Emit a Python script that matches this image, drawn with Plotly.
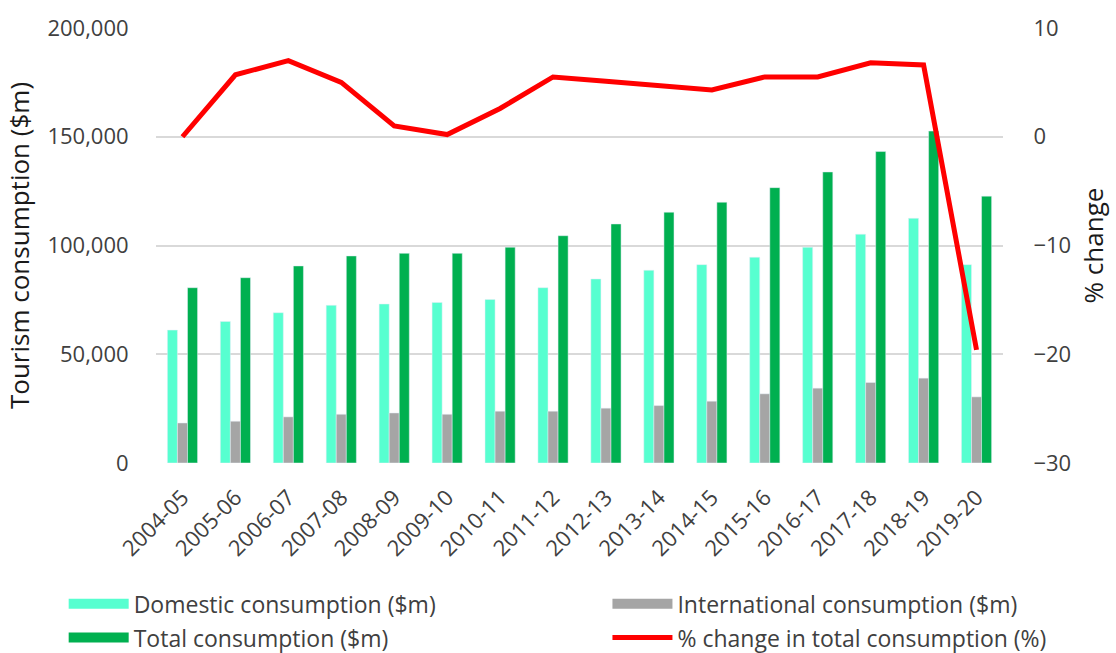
import plotly.graph_objs as go
from plotly.subplots import make_subplots

years = ['2004-05', '2005-06', '2006-07', '2007-08', '2008-09', '2009-10', '2010-11', '2011-12',
         '2012-13', '2013-14', '2014-15', '2015-16', '2016-17', '2017-18', '2018-19', '2019-20']
domestic = [61100, 65100, 69100, 72500, 73100, 73800, 75200, 80600,
            84600, 88600, 91200, 94600, 99200, 105200, 112500, 91200]
international = [18400, 19200, 21200, 22400, 23000, 22400, 23800, 23800,
                 25200, 26400, 28400, 31800, 34400, 37000, 39000, 30400]
total = [80600, 85200, 90600, 95200, 96400, 96400, 99200, 104500,
         109900, 115300, 119900, 126600, 133800, 143200, 152600, 122700]
pct_change = [0.0, 5.7, 7.0, 5.0, 1.0, 0.2, 2.6, 5.5,
              5.1, 4.7, 4.3, 5.5, 5.5, 6.8, 6.6, -19.6]

font_family = 'Open Sans, Noto Sans, sans-serif'
tick_col = '#404040'
title_col = '#1a1a1a'
col_dom, col_intl, col_tot, col_pct = '#57FFD0', '#A5A5A5', '#00B050', '#FF0000'

fig = make_subplots(specs=[[{"secondary_y": True}]])
fig.add_trace(go.Bar(x=years, y=domestic, name='Domestic consumption ($m)', marker_color=col_dom,
                     showlegend=False), secondary_y=False)
fig.add_trace(go.Bar(x=years, y=international, name='International consumption ($m)', marker_color=col_intl,
                     showlegend=False), secondary_y=False)
fig.add_trace(go.Bar(x=years, y=total, name='Total consumption ($m)', marker_color=col_tot,
                     showlegend=False), secondary_y=False)
fig.add_trace(go.Scatter(x=years, y=pct_change, name='% change in total consumption (%)', mode='lines',
                         line=dict(color=col_pct, width=5), legend='legend2', legendgroup='pct',
                         legendrank=2), secondary_y=True)

# legend-only entries so the bar swatches are wide blocks like in the original
for name, colour, leg, rank in [('Domestic consumption ($m)', col_dom, 'legend', 1),
                                ('International consumption ($m)', col_intl, 'legend2', 1),
                                ('Total consumption ($m)', col_tot, 'legend', 2)]:
    fig.add_trace(go.Scatter(x=[years[0]], y=[None], name=name, mode='lines',
                             line=dict(color=colour, width=14), legend=leg, legendgroup=name,
                             legendrank=rank, hoverinfo='skip'), secondary_y=False)

legend_style = dict(orientation='v', yanchor='top', xanchor='left', itemwidth=60,
                    traceorder='grouped', tracegroupgap=1,
                    font=dict(size=23, color=tick_col), bgcolor='rgba(0,0,0,0)')

fig.update_layout(
    width=1116, height=653,
    margin=dict(l=156, r=113, t=28, b=190, autoexpand=False),
    plot_bgcolor='white', paper_bgcolor='white',
    barmode='group', bargap=0.43, bargroupgap=0,
    font=dict(family=font_family, size=22, color=tick_col),
    legend=dict(x=-0.109, y=-0.274, **legend_style),
    legend2=dict(x=0.533, y=-0.274, **legend_style),
    showlegend=True,
)
fig.update_xaxes(type='category', domain=[0, 1], tickangle=-45, showgrid=False, showline=False,
                 ticks='outside', ticklen=12, tickcolor='white', automargin=False,
                 tickfont=dict(size=22, color=tick_col))
fig.update_yaxes(title_text='Tourism consumption ($m)', range=[0, 200000], dtick=50000, tickformat=',',
                 showgrid=True, gridcolor='#D9D9D9', gridwidth=1.5, zeroline=False, automargin=False,
                 title_font=dict(size=26, color=title_col), tickfont=dict(size=22, color=tick_col),
                 ticks='outside', ticklen=22, tickcolor='white', title_standoff=10,
                 secondary_y=False)
fig.update_yaxes(title_text='% change', range=[-30, 10], dtick=10, showgrid=False, zeroline=False,
                 automargin=False,
                 title_font=dict(size=26, color=title_col), tickfont=dict(size=22, color=tick_col),
                 ticks='outside', ticklen=25, tickcolor='white', title_standoff=14,
                 secondary_y=True)

# the page body has a default 8px margin; drop it so the figure fills the window exactly
fig.write_html("out.html", config={'displayModeBar': False},
               post_script="document.body.style.margin='0';")
